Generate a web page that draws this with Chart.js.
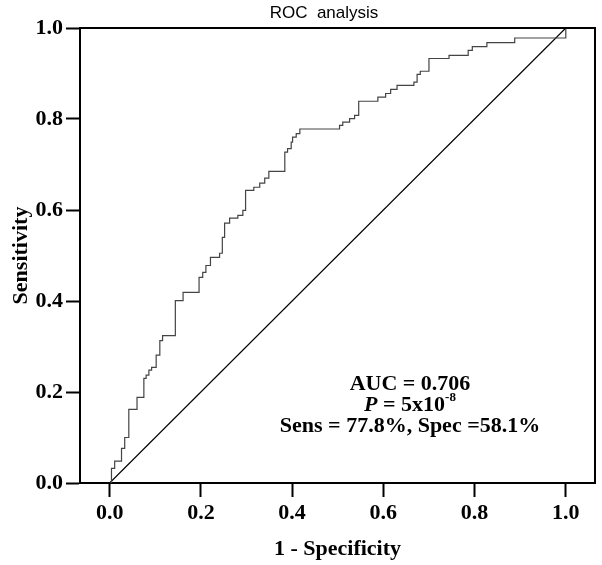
<!DOCTYPE html>
<html>
<head>
<meta charset="utf-8">
<title>ROC analysis</title>
<script src="https://cdn.jsdelivr.net/npm/chart.js@4.4.1/dist/chart.umd.min.js"></script>
<style>
  html, body { margin: 0; padding: 0; background: #fff; }
  canvas { display: block; }
</style>
</head>
<body>
<canvas id="chart" width="602" height="565"></canvas>
<script>
// ROC curve (1 - specificity, sensitivity)
const fpr = [0, 0.004, 0.011, 0.026, 0.033, 0.042, 0.060, 0.075, 0.080, 0.086, 0.092, 0.102, 0.110, 0.116,
  0.144, 0.161, 0.196, 0.204, 0.211, 0.221, 0.241, 0.247, 0.252, 0.263, 0.281, 0.292, 0.298, 0.316,
  0.329, 0.340, 0.349, 0.384, 0.390, 0.398, 0.401, 0.409, 0.417, 0.504, 0.511, 0.526, 0.537, 0.546,
  0.588, 0.605, 0.616, 0.630, 0.667, 0.674, 0.681, 0.700, 0.744, 0.786, 0.795, 0.827, 0.888, 1.0];
const tpr = [0, 0.032, 0.048, 0.076, 0.100, 0.162, 0.188, 0.230, 0.237, 0.248, 0.254, 0.281, 0.313, 0.324,
  0.401, 0.419, 0.452, 0.463, 0.478, 0.496, 0.505, 0.540, 0.571, 0.582, 0.588, 0.599, 0.643, 0.650,
  0.659, 0.670, 0.685, 0.727, 0.735, 0.749, 0.760, 0.768, 0.778, 0.786, 0.793, 0.801, 0.808, 0.839,
  0.848, 0.856, 0.865, 0.874, 0.881, 0.898, 0.905, 0.933, 0.940, 0.951, 0.959, 0.968, 0.978, 1.0];

// reference (chance) line
const refX = [0, 1];
const refY = [0, 1];

const tickValues = [0, 0.2, 0.4, 0.6, 0.8, 1.0];

const serif = "'Liberation Serif', 'Times New Roman', serif";

// frame, title and the stats box
const extras = {
    id: "extras",
    afterDraw(chart) {
        const ctx = chart.ctx;
        const a = chart.chartArea;
        ctx.save();

        // top + right border
        ctx.strokeStyle = "#000";
        ctx.lineWidth = 2;
        ctx.beginPath();
        ctx.moveTo(a.left, a.top);
        ctx.lineTo(a.right, a.top);
        ctx.lineTo(a.right, a.bottom);
        ctx.stroke();

        // title
        ctx.fillStyle = "#000";
        ctx.font = "17px 'Liberation Sans', Arial, sans-serif";
        ctx.textAlign = "center";
        ctx.textBaseline = "middle";
        ctx.fillText("ROC  analysis", 324, 13);

        // stats
        const cx = 410;
        ctx.textBaseline = "alphabetic";
        ctx.font = "bold 22px " + serif;
        ctx.fillText("AUC = 0.706", cx, 390);
        ctx.fillText("Sens = 77.8%, Spec =58.1%", cx, 432);

        // P = 5x10^-8
        const fP = "italic bold 22px " + serif;
        const fB = "bold 22px " + serif;
        const fS = "bold 13px " + serif;
        ctx.font = fP; const wP = ctx.measureText("P").width;
        ctx.font = fB; const wB = ctx.measureText(" = 5x10").width;
        ctx.font = fS; const wS = ctx.measureText("-8").width;
        let x = cx - (wP + wB + wS) / 2;
        ctx.textAlign = "left";
        ctx.font = fP; ctx.fillText("P", x, 411); x += wP;
        ctx.font = fB; ctx.fillText(" = 5x10", x, 411); x += wB;
        ctx.font = fS; ctx.fillText("-8", x, 401);

        ctx.restore();
    }
};

const ctx = document.getElementById("chart").getContext("2d");

new Chart(ctx, {
    type: "scatter",
    data: {
        datasets: [
            {
                label: "ROC",
                data: fpr.map((v, i) => ({ x: v, y: tpr[i] })),
                showLine: true,
                stepped: true,
                borderColor: "#444",
                borderWidth: 1.2,
                pointRadius: 0,
                fill: false
            },
            {
                label: "Reference",
                data: refX.map((v, i) => ({ x: v, y: refY[i] })),
                showLine: true,
                borderColor: "#000",
                borderWidth: 1.2,
                pointRadius: 0,
                fill: false
            }
        ]
    },
    options: {
        responsive: false,
        animation: false,
        layout: { padding: { top: 28, right: 7, left: 0, bottom: 0 } },
        plugins: {
            legend: { display: false },
            tooltip: { enabled: false },
            title: { display: false }
        },
        scales: {
            x: {
                type: "linear",
                min: -0.065,
                max: 1.064,
                afterBuildTicks: (s) => { s.ticks = tickValues.map(v => ({ value: v })); },
                afterFit: (s) => { s.height = 82; },
                ticks: {
                    color: "#000",
                    padding: 3,
                    font: { family: serif, size: 22, weight: "bold" },
                    callback: (v) => Number(v).toFixed(1)
                },
                grid: { drawOnChartArea: false, drawTicks: true, tickLength: 14, tickWidth: 2, tickColor: "#000" },
                border: { display: true, color: "#000", width: 2 },
                title: {
                    display: true,
                    text: "1 - Specificity",
                    color: "#000",
                    font: { family: serif, size: 22, weight: "bold" },
                    padding: { top: 0, bottom: 2 }
                }
            },
            y: {
                type: "linear",
                min: 0,
                max: 1,
                afterBuildTicks: (s) => { s.ticks = tickValues.map(v => ({ value: v })); },
                afterFit: (s) => { s.width = 80; },
                ticks: {
                    color: "#000",
                    padding: 3,
                    font: { family: serif, size: 22, weight: "bold" },
                    callback: (v) => Number(v).toFixed(1)
                },
                grid: { drawOnChartArea: false, drawTicks: true, tickLength: 14, tickWidth: 2, tickColor: "#000" },
                border: { display: true, color: "#000", width: 2 },
                title: {
                    display: true,
                    text: "Sensitivity",
                    color: "#000",
                    font: { family: serif, size: 22, weight: "bold" },
                    padding: { top: 8, bottom: 0 }
                }
            }
        }
    },
    plugins: [extras]
});
</script>
</body>
</html>
